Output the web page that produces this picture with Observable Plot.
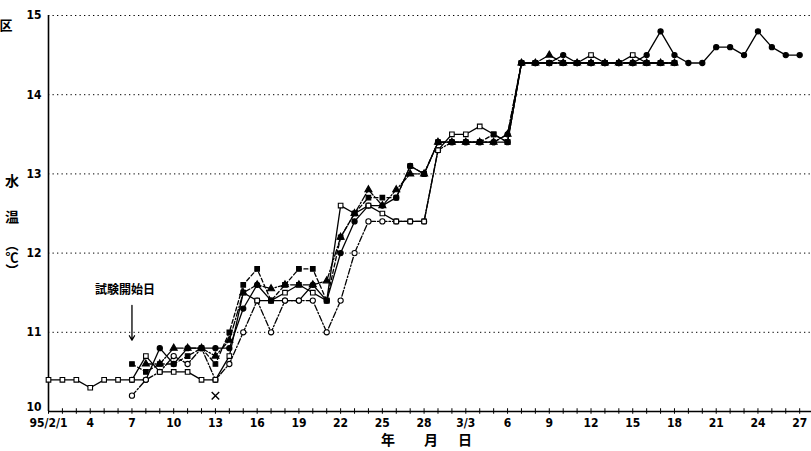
<!DOCTYPE html>
<html><head><meta charset="utf-8">
<script src="https://cdn.jsdelivr.net/npm/d3@7"></script>
<script src="https://cdn.jsdelivr.net/npm/@observablehq/plot@0.6"></script>
<style>body{margin:0;background:#fff}</style>
</head><body><div id="chart"></div>
<script>
// x = day index counted from 1995/2/1 (0) to 3/27 (54)
const tickDays = [0,3,6,9,12,15,18,21,24,27,30,33,36,39,42,45,48,51,54];
const tickLabels = ["95/2/1","4","7","10","13","16","19","22","25","28","3/3","6","9","12","15","18","21","24","27"];
const minorDays = d3.range(0, 55);
const yTicks = [10,11,12,13,14,15];
const gridValues = [11,12,13,14,15];

// Series A: filled circle, solid line (2/7 - 3/27)
const startA = 6;
const valuesA = [10.4,10.4,10.8,10.6,10.8,10.8,10.8,10.8,11.3,11.6,11.4,11.4,11.4,11.6,11.4,12.0,12.4,12.6,12.6,12.7,13.1,13.0,
  13.4,13.4,13.4,13.4,13.4,13.4,
  14.4,14.4,14.4,14.5,14.4,14.4,14.4,14.4,14.4,14.5,14.8,14.5,14.4,14.4,14.6,14.6,14.5,14.8,14.6,14.5,14.5];
// Series B: open circle (2/7 - 3/18)
const startB = 6;
const valuesB = [10.2,10.4,10.5,10.7,10.6,10.8,10.4,10.6,11.0,11.4,11.0,11.4,11.4,11.4,11.0,11.4,12.0,12.4,12.4,12.4,12.4,12.4,
  13.3,13.4,13.4,13.4,13.4,13.5,
  14.4,14.4,14.4,14.4,14.4,14.4,14.4,14.4,14.4,14.4,14.4,14.4];
// Series C: open square, solid line (2/1 - 3/18)
const startC = 0;
const valuesC = [10.4,10.4,10.4,10.3,10.4,10.4,10.4,10.7,10.5,10.5,10.5,10.4,10.4,10.7,11.5,11.4,11.4,11.5,11.6,11.5,11.4,12.6,12.5,12.6,12.5,12.4,12.4,12.4,
  13.3,13.5,13.5,13.6,13.5,13.4,
  14.4,14.4,14.4,14.4,14.4,14.5,14.4,14.4,14.5,14.4,14.4,14.4];
// Series D: filled square, dashed line (2/7 - 3/18)
const startD = 6;
const valuesD = [10.6,10.5,10.6,10.6,10.7,10.8,10.6,11.0,11.6,11.8,11.4,11.6,11.8,11.8,11.4,12.2,12.5,12.7,12.7,12.7,13.1,13.0,
  13.4,13.4,13.4,13.4,13.5,13.4,
  14.4,14.4,14.4,14.4,14.4,14.4,14.4,14.4,14.4,14.4,14.4,14.4];
// Series E: triangle, dash-dot line (2/8 - 3/18)
const startE = 7;
const valuesE = [10.6,10.6,10.8,10.8,10.8,10.7,10.9,11.5,11.6,11.55,11.6,11.6,11.6,11.65,12.2,12.5,12.8,12.6,12.8,13.0,13.0,
  13.4,13.4,13.4,13.4,13.4,13.5,
  14.4,14.4,14.5,14.4,14.4,14.4,14.4,14.4,14.4,14.4,14.4,14.4];
// Series F: cross marker
const startF = 12;
const valuesF = [10.2];

const seriesStyle = [
  {name:"A", start:startA, values:valuesA, symbol:"circle", fill:"black", dash:null},
  {name:"B", start:startB, values:valuesB, symbol:"circle", fill:"white", dash:"6,2,1.5,2"},
  {name:"C", start:startC, values:valuesC, symbol:"square", fill:"white", dash:null},
  {name:"D", start:startD, values:valuesD, symbol:"square", fill:"black", dash:"4,2.5"},
  {name:"E", start:startE, values:valuesE, symbol:"triangle", fill:"black", dash:"7,2,1.5,2"},
  {name:"F", start:startF, values:valuesF, symbol:"times", fill:"none", dash:null}
];

// annotation
const noteText = ["試験開始日"];
const noteDay = [5.5];
const noteValue = [11.53];
const arrowDay = [6];
const arrowFrom = [11.34];
const arrowTo = [10.9];

const rowsOf = s => s.values.map((v,i)=>({series:s.name, day:s.start+i, value:v}));

const marks = [
  Plot.ruleY(gridValues, {stroke:"#000", strokeWidth:1, strokeDasharray:"1.3,3.2"}),
  Plot.ruleX(minorDays, {y1:9.965, y2:10.035, stroke:"#000", strokeWidth:1}),
  Plot.ruleX([0], {y1:10, y2:15, stroke:"#000", strokeWidth:1.6}),
  Plot.ruleY([10], {stroke:"#000", strokeWidth:1.3})
];
for (const s of seriesStyle) {
  const data = rowsOf(s);
  if (data.length > 1) marks.push(Plot.line(data, {x:"day", y:"value", stroke:"#000", strokeWidth:1.3, strokeDasharray:s.dash}));
}
for (const s of seriesStyle) {
  const data = rowsOf(s);
  marks.push(Plot.dot(data, {x:"day", y:"value", symbol:()=>s.symbol, r: s.symbol==="times"?3.5:2.6,
    fill: s.fill==="none" ? "none" : s.fill, stroke:"#000", strokeWidth: s.symbol==="times"?1.4:1.1}));
}
marks.push(Plot.text(noteText, {x:()=>noteDay[0], y:()=>noteValue[0], text:d=>d, fontSize:12, fontWeight:"bold",
  fontFamily:"Noto Sans CJK JP", fill:"#000"}));
marks.push(Plot.arrow([0], {x1:()=>arrowDay[0], x2:()=>arrowDay[0], y1:()=>arrowFrom[0], y2:()=>arrowTo[0],
  stroke:"#000", strokeWidth:1.3, headLength:6}));

const chart = Plot.plot({
  width:811, height:451,
  marginLeft:48, marginRight:0, marginTop:15, marginBottom:40,
  style:{fontFamily:"DejaVu Sans Condensed", fontWeight:"bold", fontSize:"12px", background:"white", color:"#000"},
  x:{domain:[0,54.85], ticks:tickDays, tickFormat:d=>tickLabels[tickDays.indexOf(d)], tickSize:0, tickPadding:7, label:null},
  y:{domain:[10,15], ticks:yTicks, tickFormat:d=>String(d), tickSize:0, tickPadding:7, label:null},
  marks
});
document.getElementById("chart").appendChild(chart);

const svg = d3.select(chart);
// nudge the bottom y label ("10", left of the axis) up so it clears the first date label
const svgLeft = chart.getBoundingClientRect().left;
svg.selectAll("text").each(function(){
  if (this.textContent === "10" && this.getBoundingClientRect().right - svgLeft < 47) {
    this.setAttribute("transform", (this.getAttribute("transform") || "") + " translate(0,-4)");
  }
});
// axis titles as text
const yTitle = [["水",186],["温",222]];
svg.selectAll("text.ytitle").data(yTitle).join("text").attr("class","ytitle")
  .attr("x",12).attr("y",d=>d[1]).attr("text-anchor","middle")
  .style("font-family","Noto Sans CJK JP").style("font-size","14px").style("font-weight","bold")
  .text(d=>d[0]);
svg.append("text").attr("x",12).attr("y",238).attr("text-anchor","start")
  .style("writing-mode","vertical-rl").style("font-family","Noto Sans CJK JP")
  .style("font-size","13px").style("font-weight","bold").text("（℃）");
svg.append("text").attr("x",6).attr("y",30).attr("text-anchor","middle")
  .style("font-family","Noto Sans CJK JP").style("font-size","13px").style("font-weight","bold").text("区");
const xTitle = [["年",388],["月",431],["日",465]];
svg.selectAll("text.xtitle").data(xTitle).join("text").attr("class","xtitle")
  .attr("x",d=>d[1]).attr("y",445).attr("text-anchor","middle")
  .style("font-family","Noto Sans CJK JP").style("font-size","14px").style("font-weight","bold")
  .text(d=>d[0]);
</script>
</body></html>
